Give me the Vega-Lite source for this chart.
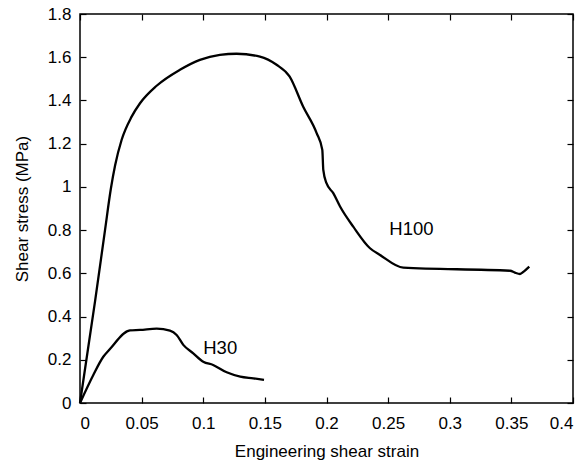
{
  "$schema": "https://vega.github.io/schema/vega-lite/v6.json",
  "width": 493,
  "height": 389,
  "autosize": {"type": "none"},
  "padding": {"left": 80, "top": 14, "right": 6, "bottom": 61},
  "background": "white",
  "config": {
    "view": {"stroke": "black", "strokeWidth": 1.5},
    "font": "Liberation Sans",
    "axis": {"domain": false, "grid": false, "tickColor": "black", "tickSize": -6, "tickWidth": 1.2, "labelColor": "black", "titleColor": "black", "labelFont": "Liberation Sans", "titleFont": "Liberation Sans", "labelFontSize": 17, "titleFontSize": 17, "titleFontWeight": "normal", "format": "~g"}
  },
  "datasets": {
    "curves": [
      {"series": "H100", "x": 0, "y": 0},
      {"series": "H100", "x": 0.0122, "y": 0.47},
      {"series": "H100", "x": 0.0203, "y": 0.8},
      {"series": "H100", "x": 0.025, "y": 0.99},
      {"series": "H100", "x": 0.0285, "y": 1.1},
      {"series": "H100", "x": 0.0338, "y": 1.218},
      {"series": "H100", "x": 0.0419, "y": 1.325},
      {"series": "H100", "x": 0.0487, "y": 1.387},
      {"series": "H100", "x": 0.0622, "y": 1.468},
      {"series": "H100", "x": 0.0811, "y": 1.542},
      {"series": "H100", "x": 0.0973, "y": 1.588},
      {"series": "H100", "x": 0.1135, "y": 1.611},
      {"series": "H100", "x": 0.127, "y": 1.616},
      {"series": "H100", "x": 0.146, "y": 1.603},
      {"series": "H100", "x": 0.1595, "y": 1.565},
      {"series": "H100", "x": 0.17, "y": 1.511},
      {"series": "H100", "x": 0.181, "y": 1.372},
      {"series": "H100", "x": 0.192, "y": 1.249},
      {"series": "H100", "x": 0.1966, "y": 1.171},
      {"series": "H100", "x": 0.1974, "y": 1.079},
      {"series": "H100", "x": 0.2, "y": 1.017},
      {"series": "H100", "x": 0.2055, "y": 0.971},
      {"series": "H100", "x": 0.211, "y": 0.909},
      {"series": "H100", "x": 0.2217, "y": 0.816},
      {"series": "H100", "x": 0.2353, "y": 0.716},
      {"series": "H100", "x": 0.2434, "y": 0.685},
      {"series": "H100", "x": 0.2623, "y": 0.626},
      {"series": "H100", "x": 0.349, "y": 0.612},
      {"series": "H100", "x": 0.3529, "y": 0.603},
      {"series": "H100", "x": 0.357, "y": 0.597},
      {"series": "H100", "x": 0.36, "y": 0.608},
      {"series": "H100", "x": 0.3645, "y": 0.631},
      {"series": "H30", "x": 0, "y": 0},
      {"series": "H30", "x": 0.0108, "y": 0.13},
      {"series": "H30", "x": 0.0189, "y": 0.214},
      {"series": "H30", "x": 0.0243, "y": 0.25},
      {"series": "H30", "x": 0.0405, "y": 0.336},
      {"series": "H30", "x": 0.0487, "y": 0.338},
      {"series": "H30", "x": 0.0622, "y": 0.344},
      {"series": "H30", "x": 0.073, "y": 0.335},
      {"series": "H30", "x": 0.0784, "y": 0.315},
      {"series": "H30", "x": 0.0838, "y": 0.269},
      {"series": "H30", "x": 0.0919, "y": 0.23},
      {"series": "H30", "x": 0.1, "y": 0.191},
      {"series": "H30", "x": 0.108, "y": 0.176},
      {"series": "H30", "x": 0.119, "y": 0.142},
      {"series": "H30", "x": 0.13, "y": 0.122},
      {"series": "H30", "x": 0.1406, "y": 0.114},
      {"series": "H30", "x": 0.1493, "y": 0.107}
    ],
    "labels": [
      {"label": "H100", "x": 0.251, "y": 0.806},
      {"label": "H30", "x": 0.1, "y": 0.255}
    ]
  },
  "resolve": {"axis": {"x": "independent", "y": "independent"}},
  "layer": [
    {
      "data": {"name": "curves"},
      "mark": {"type": "line", "color": "black", "strokeWidth": 2.3, "interpolate": "monotone"},
      "encoding": {
        "x": {"field": "x", "type": "quantitative", "scale": {"domain": [0, 0.4], "nice": false}, "axis": {"title": "Engineering shear strain", "values": [0, 0.05, 0.1, 0.15, 0.2, 0.25, 0.3, 0.35, 0.4], "labelPadding": 18, "titlePadding": 12}},
        "y": {"field": "y", "type": "quantitative", "scale": {"domain": [0, 1.8], "nice": false}, "axis": {"title": "Shear stress (MPa)", "values": [0, 0.2, 0.4, 0.6, 0.8, 1, 1.2, 1.4, 1.6, 1.8], "labelPadding": 15, "titlePadding": 16}},
        "detail": {"field": "series"},
        "order": {"field": "x"}
      }
    },
    {
      "data": {"name": "labels"},
      "mark": {"type": "text", "align": "left", "baseline": "middle", "fontSize": 18.5, "font": "Liberation Sans", "color": "black"},
      "encoding": {
        "x": {"field": "x", "type": "quantitative", "axis": {"orient": "top", "title": null, "labels": false, "values": [0, 0.05, 0.1, 0.15, 0.2, 0.25, 0.3, 0.35, 0.4]}},
        "y": {"field": "y", "type": "quantitative", "axis": {"orient": "right", "title": null, "labels": false, "values": [0, 0.2, 0.4, 0.6, 0.8, 1, 1.2, 1.4, 1.6, 1.8]}},
        "text": {"field": "label"}
      }
    }
  ]
}
